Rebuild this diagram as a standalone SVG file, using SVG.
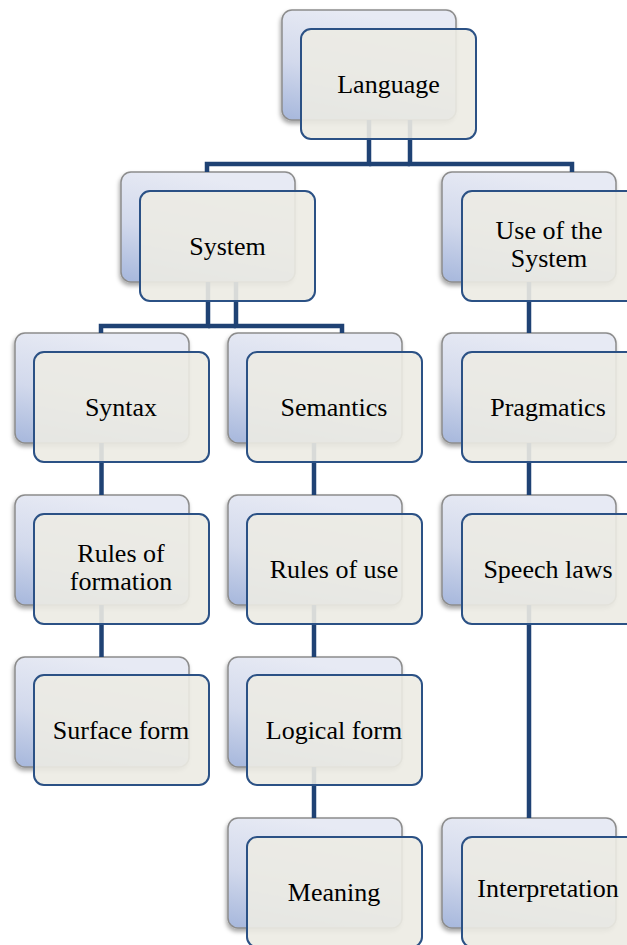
<svg xmlns="http://www.w3.org/2000/svg" width="627" height="945" viewBox="0 0 627 945">
  <style>
    .back { fill: url(#backGrad); stroke: #8c8c8c; stroke-width: 1.5; filter: url(#shadow); }
    .front { fill: #ecebe3; fill-opacity: 0.9; stroke: #2b5185; stroke-width: 2; }
    .conn { fill: none; stroke: #1f4274; stroke-width: 4.5; stroke-linejoin: miter; }
    .label { font-family: "Liberation Serif", "Times New Roman", serif; font-size: 26px; fill: #000; text-anchor: middle; }
  </style>
  <defs>
    <linearGradient id="backGrad" x1="0.3" y1="0" x2="0" y2="1">
      <stop offset="0" stop-color="#e7eaf4"/>
      <stop offset="0.5" stop-color="#d2d9ec"/>
      <stop offset="1" stop-color="#a6b7dc"/>
    </linearGradient>
    <filter id="shadow" x="-10%" y="-10%" width="120%" height="125%">
      <feDropShadow dx="-1" dy="3" stdDeviation="2" flood-color="#000" flood-opacity="0.35"/>
    </filter>
  </defs>

  <!-- back boxes -->
  <g id="backs">
    <rect class="back" x="282" y="10" width="174" height="110" rx="10"/>
    <rect class="back" x="121" y="172" width="174" height="110" rx="10"/>
    <rect class="back" x="442" y="172" width="174" height="110" rx="10"/>
    <rect class="back" x="15" y="333" width="174" height="110" rx="10"/>
    <rect class="back" x="228" y="333" width="174" height="110" rx="10"/>
    <rect class="back" x="442" y="333" width="174" height="110" rx="10"/>
    <rect class="back" x="15" y="495" width="174" height="110" rx="10"/>
    <rect class="back" x="228" y="495" width="174" height="110" rx="10"/>
    <rect class="back" x="442" y="495" width="174" height="110" rx="10"/>
    <rect class="back" x="15" y="657" width="174" height="110" rx="10"/>
    <rect class="back" x="228" y="657" width="174" height="110" rx="10"/>
    <rect class="back" x="228" y="818" width="174" height="110" rx="10"/>
    <rect class="back" x="442" y="818" width="174" height="110" rx="10"/>
  </g>

  <!-- connectors -->
  <g id="connectors">
    <path class="conn" d="M369,120 V164 H207 V172"/>
    <path class="conn" d="M410,120 V164 H572 V172"/>
    <path class="conn" d="M369,164 H410"/>
    <path class="conn" d="M208,282 V326 H101 V333"/>
    <path class="conn" d="M236,282 V326 H342 V333"/>
    <path class="conn" d="M208,326 H236"/>
    <path class="conn" d="M529,282 V333"/>
    <path class="conn" d="M529,443 V495"/>
    <path class="conn" d="M529,605 V818"/>
    <path class="conn" d="M101.5,443 V495"/>
    <path class="conn" d="M101.5,605 V657"/>
    <path class="conn" d="M314,443 V495"/>
    <path class="conn" d="M314,605 V657"/>
    <path class="conn" d="M314,767 V818"/>
  </g>

  <g id="language">
    <rect class="front" x="301" y="29" width="175" height="110" rx="10"/>
    <text class="label" x="388.5" y="93">Language</text>
  </g>
  <g id="system">
    <rect class="front" x="140" y="191" width="175" height="110" rx="10"/>
    <text class="label" x="227.5" y="255">System</text>
  </g>
  <g id="use-of-the-system">
    <rect class="front" x="462" y="191" width="175" height="110" rx="10"/>
    <text class="label" x="549" y="239">Use of the</text>
    <text class="label" x="549" y="267">System</text>
  </g>
  <g id="syntax">
    <rect class="front" x="34" y="352" width="175" height="110" rx="10"/>
    <text class="label" x="121" y="416">Syntax</text>
  </g>
  <g id="semantics">
    <rect class="front" x="247" y="352" width="175" height="110" rx="10"/>
    <text class="label" x="334" y="416">Semantics</text>
  </g>
  <g id="pragmatics">
    <rect class="front" x="462" y="352" width="175" height="110" rx="10"/>
    <text class="label" x="548" y="416">Pragmatics</text>
  </g>
  <g id="rules-of-formation">
    <rect class="front" x="34" y="514" width="175" height="110" rx="10"/>
    <text class="label" x="121" y="562">Rules of</text>
    <text class="label" x="121" y="590">formation</text>
  </g>
  <g id="rules-of-use">
    <rect class="front" x="247" y="514" width="175" height="110" rx="10"/>
    <text class="label" x="334" y="578">Rules of use</text>
  </g>
  <g id="speech-laws">
    <rect class="front" x="462" y="514" width="175" height="110" rx="10"/>
    <text class="label" x="548" y="578">Speech laws</text>
  </g>
  <g id="surface-form">
    <rect class="front" x="34" y="675" width="175" height="110" rx="10"/>
    <text class="label" x="121" y="739">Surface form</text>
  </g>
  <g id="logical-form">
    <rect class="front" x="247" y="675" width="175" height="110" rx="10"/>
    <text class="label" x="334" y="739">Logical form</text>
  </g>
  <g id="meaning">
    <rect class="front" x="247" y="837" width="175" height="110" rx="10"/>
    <text class="label" x="334" y="901">Meaning</text>
  </g>
  <g id="interpretation">
    <rect class="front" x="462" y="837" width="175" height="110" rx="10"/>
    <text class="label" x="548" y="897">Interpretation</text>
  </g>
</svg>
